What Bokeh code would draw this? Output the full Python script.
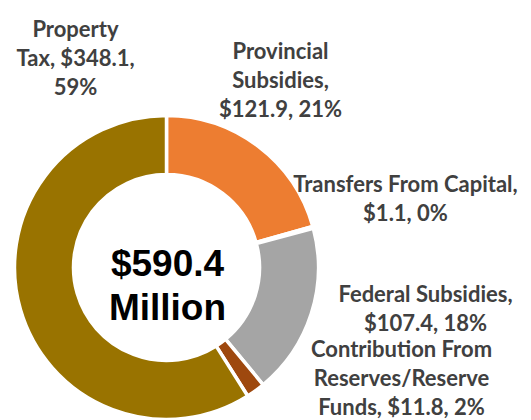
import math
from bokeh.plotting import figure
from bokeh.models import Range1d, ColumnDataSource
from bokeh.core.properties import value
from bokeh.embed import file_html
from bokeh.resources import INLINE

# ---- data ----
categories = ["Provincial Subsidies", "Transfers From Capital", "Federal Subsidies",
              "Contribution From Reserves/Reserve Funds", "Property Tax"]
amounts = [121.9, 1.1, 107.4, 11.8, 348.1]
percents = [21, 0, 18, 2, 59]
total_label = ["$590.4", "Million"]
colors = ["#ED7D31", "#FFFFFF", "#A5A5A5", "#9E480E", "#997300"]

# ---- layout (image pixel coords) ----
W, H = 531, 420
def ty(y):  # image y -> data y
    return H - y

cx, cy = 166, 267
r_in, r_out = 93, 152

p = figure(width=W, height=H, x_range=Range1d(0, W), y_range=Range1d(0, H),
           output_backend="svg", toolbar_location=None, min_border=0)
p.axis.visible = False
p.grid.visible = False
p.outline_line_color = None
p.background_fill_color = "white"

T = sum(amounts)
starts, ends = [], []
cum = 0.0
for a in amounts:
    ends.append(math.pi / 2 - cum / T * 2 * math.pi)
    cum += a
    starts.append(math.pi / 2 - cum / T * 2 * math.pi)

src = ColumnDataSource(dict(x=[cx] * len(amounts), y=[ty(cy)] * len(amounts),
                            start=starts, end=ends, color=colors))
p.annular_wedge(x="x", y="y", inner_radius=r_in, outer_radius=r_out,
                start_angle="start", end_angle="end", fill_color="color",
                line_color="white", line_width=3.5, source=src)

# labels: word counts per line, centre x, first baseline y
label_layout = [
    ([1, 1, 2], 280, 50),
    ([3, 2], 405, 183),
    ([2, 2], 425, 293),
    ([2, 1, 3], 401, 348),
    ([1, 2, 1], 75, 28),
]
line_gap = 29
xs, ys, texts = [], [], []
for cat, amt, pct, (split, lx, ly) in zip(categories, amounts, percents, label_layout):
    words = f"{cat}, ${amt:.1f}, {pct}%".split(" ")
    i = 0
    for k, n in enumerate(split):
        texts.append(" ".join(words[i:i + n]))
        i += n
        xs.append(lx)
        ys.append(ty(ly + k * line_gap))

p.text(x=xs, y=ys, text=texts, text_align="center", text_baseline="alphabetic",
       text_font=value("Lato"), text_font_style="bold", text_font_size="22px",
       text_color="#404040")

p.text(x=[167, 167], y=[ty(263), ty(307)], text=total_label, text_align="center",
       text_baseline="alphabetic", text_font=value("Liberation Sans"),
       text_font_style="bold", text_font_size="37px", text_color="black")

open("out.html", "w").write(file_html(p, INLINE))
